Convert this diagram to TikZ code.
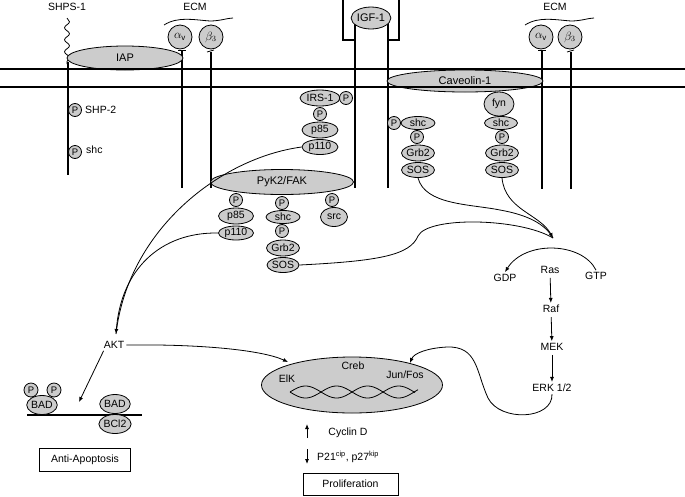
\documentclass[tikz,border=0pt]{standalone}
\usepackage{fontspec}
\setmainfont{Liberation Sans}
\usetikzlibrary{shapes.geometric,arrows.meta,decorations.pathmorphing}
\begin{document}
\begin{tikzpicture}[x=1pt,y=-1pt,
  mol/.style={ellipse,draw,line width=0.8pt,fill=gray!40,inner sep=0pt,font=\fontsize{10.5}{11}\selectfont},
  pc/.style={circle,draw,line width=0.8pt,fill=gray!40,inner sep=0pt,minimum size=13pt,font=\fontsize{9.5}{10}\selectfont},
  intg/.style={circle,draw,line width=0.8pt,fill=gray!40,inner sep=0pt,minimum size=24pt,font=\fontsize{12}{12}\selectfont},
  lbl/.style={font=\fontsize{10.5}{12}\selectfont,inner sep=2pt},
  arr/.style={-{Latex[length=5pt,width=4pt]}},
  conn/.style={line width=0.8pt},
  mem/.style={line width=1.4pt},
  stem/.style={line width=1.2pt},
  boxed/.style={draw,line width=0.7pt,font=\fontsize{10.5}{12}\selectfont,inner sep=0pt}
]
\useasboundingbox (0,0) rectangle (685,496);

% labels above membrane
\node[lbl] (shps) at (67,7) {SHPS-1};
\node[lbl] (ecm1) at (195,7) {ECM};
\node[lbl] (ecm2) at (555,7) {ECM};
\draw[conn] (164,25) .. controls (178,16) and (195,20) .. (210,21) .. controls (220,21) and (228,18) .. (233,18);
\draw[conn] (525,25) .. controls (539,16) and (556,20) .. (571,21) .. controls (581,21) and (589,18) .. (594,18);

% SHPS-1
\draw[conn,decorate,decoration={snake,amplitude=2.5pt,segment length=12pt}] (67,18) -- (67,64);
\draw[stem] (68,62) -- (68,175);

% integrin stems
\draw[stem] (182,50) -- (182,188);
\draw[stem] (211,52) -- (211,188);
\draw[stem] (542,50) -- (542,189);
\draw[stem] (571,52) -- (571,189);
\draw[conn] (178,50) -- (186,50);
\draw[conn] (207,52) -- (214,50);
\draw[conn] (538,50) -- (546,50);
\draw[conn] (567,52) -- (574,50);

% IGF receptor
\draw[stem] (343,0) -- (343,40) -- (355,40);
\draw[stem] (399,0) -- (399,40) -- (388,40);
\draw[stem] (355,22) -- (355,188);
\draw[stem] (388,22) -- (388,188);

% membrane ellipses
\node[mol,minimum width=116pt,minimum height=24pt,font=\fontsize{11}{12}\selectfont] (iap) at (125,58) {IAP};
\node[mol,minimum width=156pt,minimum height=22pt,font=\fontsize{11}{12}\selectfont] (cav) at (465,81) {Caveolin-1};

% membrane
\draw[mem] (0,69) -- (685,69);
\draw[line width=1.7pt] (0,87) -- (685,87);

% integrin subunits and IGF-1
\node[intg] (av1) at (180,37) {$\alpha_{\mathrm v}$};
\node[intg] (b31) at (211,37) {$\beta_{3}$};
\node[intg] (av2) at (541,37) {$\alpha_{\mathrm v}$};
\node[intg] (b32) at (570,37) {$\beta_{3}$};
\node[mol,minimum width=34pt,minimum height=22pt,font=\fontsize{11}{12}\selectfont] (igf) at (371,18) {IGF-1};

% SHPS-1 partners
\node[pc] (ps1) at (75,110) {P};
\node[lbl,anchor=west] (shp2) at (83,110) {SHP-2};
\node[pc] (ps2) at (75,152) {P};
\node[lbl,anchor=west] (shcl) at (84,150) {shc};

% IRS-1 column
\node[mol,minimum width=40pt,minimum height=16pt] (irs) at (320,98) {IRS-1};
\node[pc] (pirs) at (346,98) {P};
\node[pc] (pi1) at (320,114) {P};
\node[mol,minimum width=36pt,minimum height=16pt] (p85a) at (320,130) {p85};
\node[mol,minimum width=36pt,minimum height=15pt] (p110a) at (320,147) {p110};

% shc column near IGF-R
\node[pc] (pc1) at (394,123) {P};
\node[mol,minimum width=34pt,minimum height=13pt] (shc1) at (418,123) {shc};
\node[pc] (pc2) at (417,137) {P};
\node[mol,minimum width=33pt,minimum height=16pt] (grb1) at (418,153) {Grb2};
\node[mol,minimum width=33pt,minimum height=15pt] (sos1) at (418,170) {SOS};

% fyn column
\node[mol,minimum width=30pt,minimum height=24pt] (fyn) at (499,104) {fyn};
\node[mol,minimum width=33pt,minimum height=13pt] (shc2) at (501,123) {shc};
\node[pc] (pf1) at (502,137) {P};
\node[mol,minimum width=33pt,minimum height=16pt] (grb2) at (502,153) {Grb2};
\node[mol,minimum width=33pt,minimum height=15pt] (sos2) at (502,170) {SOS};

% PyK2/FAK
\node[mol,minimum width=143pt,minimum height=25pt,font=\fontsize{11}{12}\selectfont] (pyk) at (282,182) {PyK2/FAK};
\node[pc] (pk1) at (236,200) {P};
\node[mol,minimum width=35pt,minimum height=16pt] (p85b) at (236,216) {p85};
\node[mol,minimum width=35pt,minimum height=14pt] (p110b) at (236,233) {p110};
\node[pc] (pk2) at (282,203) {P};
\node[mol,minimum width=34pt,minimum height=13pt] (shc3) at (283,217) {shc};
\node[pc] (pk3) at (282,231) {P};
\node[mol,minimum width=32pt,minimum height=16pt] (grb3) at (283,248) {Grb2};
\node[mol,minimum width=32pt,minimum height=15pt] (sos3) at (283,265) {SOS};
\node[pc] (pk4) at (332,200) {P};
\node[mol,minimum width=27pt,minimum height=19pt] (src) at (334,217) {src};

% PI3K -> AKT
\coordinate (aktin) at (116,334);
\node[lbl] (akt) at (114,345) {AKT};
\draw[conn] (p110a.west) .. controls (220,158) and (128,230) .. (aktin);
\draw[conn,arr] (p110b.west) .. controls (160,232) and (121,270) .. (aktin);

% SOS -> Ras
\coordinate (rasin) at (553,238);
\draw[conn] (sos3.east) .. controls (380,261) and (410,255) .. (418,236) .. controls (428,216) and (520,218) .. (rasin);
\draw[conn] (sos1.south) .. controls (425,205) and (470,204) .. (500,210) .. controls (528,215) and (545,224) .. (rasin);
\draw[conn,arr] (sos2.south) .. controls (505,210) and (540,214) .. (rasin);

% Ras cascade
\node[lbl] (gdp) at (505,278) {GDP};
\node[lbl] (ras) at (550,270) {Ras};
\node[lbl] (gtp) at (596,276) {GTP};
\node[lbl] (raf) at (551,309) {Raf};
\node[lbl] (mek) at (552,347) {MEK};
\node[lbl] (erk) at (552,388) {ERK 1/2};
\draw[conn,arr] (gtp.north) .. controls (582,242) and (525,240) .. (gdp.north);
\draw[conn,arr,shorten <=2pt] (ras) -- (raf);
\draw[conn,arr,shorten <=2pt] (raf) -- (mek);
\draw[conn,arr,shorten <=2pt] (mek) -- (erk);

% nucleus
\node[ellipse,draw,line width=0.8pt,fill=gray!40,minimum width=181pt,minimum height=56pt,inner sep=0pt] (nuc) at (352,385) {};
\node[lbl] (elk) at (287,379) {ElK};
\node[lbl] (creb) at (353,366) {Creb};
\node[lbl] (junfos) at (405,375) {Jun/Fos};
\draw[conn] plot[domain=290:415,samples=80,smooth] (\x,{392+6*sin((\x-290)*5.8)});
\draw[conn] plot[domain=290:418,samples=80,smooth] (\x,{392-6*sin((\x-290)*5.8)});

% ERK -> Jun/Fos
\draw[conn,arr] (erk.south) .. controls (553,420) and (500,422) .. (488,398) .. controls (476,372) and (478,346) .. (447,347) .. controls (428,348) and (414,353) .. (410,363);

% AKT -> ElK
\draw[conn,arr] (akt.east) .. controls (200,344) and (262,350) .. (288,362);

% AKT -> BAD
\coordinate (badin) at (79,402);
\draw[conn,arr] (akt.south west) ++(2,0) -- (badin);

% BAD / Bcl2
\draw[line width=1.5pt] (27,415) -- (142,415);
\node[mol,minimum width=30pt,minimum height=19pt] (bad1) at (42,405) {BAD};
\node[pc,minimum size=14pt] (pb1) at (31,390) {P};
\node[pc,minimum size=14pt] (pb2) at (54,390) {P};
\node[mol,minimum width=29pt,minimum height=19pt] (bad2) at (115,404) {BAD};
\node[mol,minimum width=29pt,minimum height=19pt] (bcl) at (115,424) {BCl2};
\node[boxed,minimum width=91pt,minimum height=23pt] (anti) at (85,460) {Anti-Apoptosis};

% proliferation
\coordinate (cu1) at (307,438);
\coordinate (cu2) at (307,424);
\coordinate (cd1) at (307,449);
\coordinate (cd2) at (307,464);
\draw[conn,arr] (cu1) -- (cu2);
\draw[conn,arr] (cd1) -- (cd2);
\node[lbl] (cyc) at (348,433) {Cyclin D};
\node[lbl,anchor=west] (p21) at (315,457) {P21\textsuperscript{cip}, p27\textsuperscript{kip}};
\node[boxed,minimum width=95pt,minimum height=22pt] (prol) at (350.5,484) {Proliferation};
\end{tikzpicture}
\end{document}
